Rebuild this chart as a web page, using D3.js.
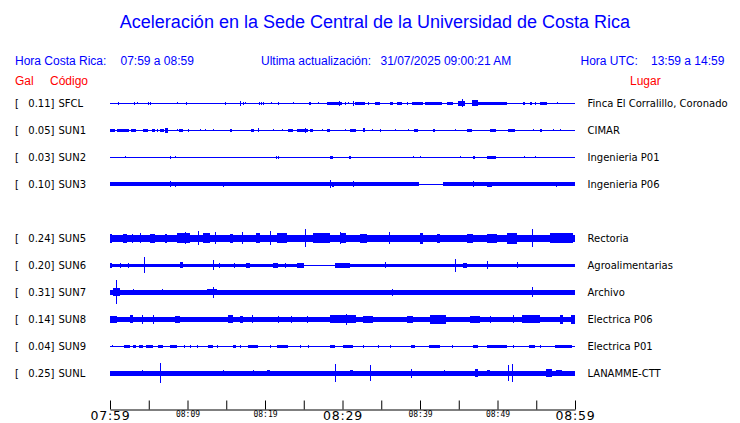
<!DOCTYPE html>
<html><head><meta charset="utf-8">
<script src="https://cdn.jsdelivr.net/npm/d3@7"></script>
<style>body{margin:0;background:#fff}svg{display:block}</style>
</head><body><svg id="c" width="740" height="423"></svg>
<script>
// ---------- data ----------
const codes  = ["SFCL","SUN1","SUN2","SUN3","SUN5","SUN6","SUN7","SUN8","SUN9","SUNL"];
const peakGal = [0.11,0.05,0.03,0.10,0.24,0.20,0.31,0.14,0.04,0.25];
const places = ["Finca El Corralillo, Coronado","CIMAR","Ingenieria P01","Ingenieria P06","Rectoria","Agroalimentarias","Archivo","Electrica P06","Electrica P01","LANAMME-CTT"];
const rowSlot = [0,1,2,3,5,6,7,8,9,10];           // slot 4 is an empty row
// background amplitude of each trace (relative units, 13.5 = half a row)
const baseAmp = [0.5,0.5,0.5,2.0,3.8,1.8,2.2,2.6,0.5,2.2];
// flat (no-signal) stretches, minutes after 07:59
const quietSpans = [[],[],[],[[39.9,43.0]],[],[[25.0,29.0]],[],[],[],[]];
// bursts: [start minute, end minute, amplitude]
const bursts = [
 [[1.0,1.2,1.5],[3.1,3.1,1.2],[3.5,3.5,1],[4.9,5.0,1.5],[5.2,5.3,1.5],[8.6,8.6,1],[9.8,9.9,1.5],[14.8,14.8,1.2],[16.8,16.9,2.2],[17.2,17.2,1.2],[17.4,17.4,1],[19.2,19.2,1.2],[19.5,19.6,1.5],[19.7,19.7,1.2],[20.8,20.8,1],[21.7,21.7,1.2],[23.6,23.6,1],[25.7,25.9,1.2],[26.8,26.8,1],[28.0,29.9,1.5],[29.6,29.7,2.5],[30.3,30.3,1.2],[30.7,30.7,1],[31.4,31.5,2.5],[31.6,32.9,1.5],[33.3,33.4,1.2],[34.2,34.8,1.5],[36.1,36.5,1.2],[37.0,37.7,1.5],[38.3,38.4,1.2],[39.0,40.4,1.5],[40.6,42.8,1.7],[43.5,44.3,1.5],[44.9,45.8,2.5],[45.4,45.6,4],[46.7,47.5,3],[47.5,51.2,1.8],[53.3,53.5,1.2],[54.2,54.4,1.2],[54.8,55.0,1.2],[55.5,56.4,1.2],[57.7,57.7,1]],
 [[0.0,0.6,1.5],[0.9,1.5,1.5],[1.6,2.4,1.5],[2.7,3.4,1.5],[4.3,4.9,1.5],[5.4,5.8,1.2],[6.1,6.1,1.2],[6.5,7.0,1.2],[7.1,7.5,2.2],[8.6,8.6,1],[8.9,9.4,1.2],[10.1,10.1,1.2],[11.6,11.6,1],[12.3,12.3,1],[13.3,13.3,1],[15.5,15.8,1.2],[18.2,18.6,1.5],[19.1,19.1,2],[21.0,21.0,1],[22.2,22.2,1],[23.0,23.6,1.5],[24.1,25.6,1.8],[25.2,25.3,2.5],[25.8,26.2,1.2],[27.4,27.4,1],[28.0,28.4,1.2],[30.3,30.3,1],[31.0,31.8,1.2],[32.7,32.9,2],[33.8,33.8,1],[34.8,34.8,1.2],[36.8,36.8,1],[38.5,38.5,1],[39.2,39.7,1.5],[41.7,41.9,1.2],[44.5,44.5,1],[46.1,46.7,1.5],[49.0,49.8,1.5],[51.4,52.3,1.2],[54.6,54.6,1],[55.5,55.7,1.5],[57.2,57.2,1],[58.1,58.1,1]],
 [[1.9,1.9,1],[7.7,7.7,1.5],[8.4,8.4,1],[21.4,21.4,1.5],[21.7,21.7,1.5],[28.4,28.8,1.5],[30.8,31.1,1.5],[39.1,39.1,1],[40.0,40.0,1],[45.2,45.2,1],[46.8,47.1,1.5],[48.6,49.8,1.5],[53.4,53.4,1],[54.8,54.8,1]],
 [[7.7,7.7,3],[8.4,8.4,2.5],[14.6,14.6,2.5],[28.4,28.4,4],[28.6,28.9,2.5],[31.3,31.4,3],[46.8,46.8,3],[48.6,49.3,2.7],[57.6,57.6,2.3]],
 [[0,0.2,4.5],[1.7,2.2,4.8],[2.8,2.8,4.5],[3.9,3.9,5],[5.2,5.8,4.5],[7.1,7.3,4.5],[8.6,10.3,5],[9.7,9.7,6],[11.3,11.3,7],[12.0,12.9,5],[13.5,13.5,6],[15.5,15.9,4.5],[17.0,17.0,6],[18.9,19.4,5],[20.6,20.6,7],[21.5,22.8,5],[25.2,25.2,9],[26.2,28.4,5],[29.7,29.7,6],[29.7,30.5,5],[32.3,33.1,4.5],[36.0,36.0,6],[40.0,40.4,5.5],[42.2,42.6,4.5],[46.0,46.9,4.5],[48.6,49.9,4.5],[51.2,52.5,5.5],[54.4,54.4,9],[56.8,59.8,5]],
 [[0,0.2,2.3],[1.3,1.3,2.2],[2.3,2.3,2.2],[4.4,4.4,8],[9.0,9.4,3],[13.3,13.3,5],[14.0,14.0,2.3],[16.0,16.0,2.3],[17.6,18.0,2.3],[21.0,21.7,2.5],[22.6,22.6,2.2],[24.1,25.0,2.2],[29.0,31.0,2.5],[35.5,35.5,3],[44.5,44.7,6.5],[45.5,46.1,2.3],[48.6,48.6,4],[52.5,52.5,3]],
 [[0.4,1.3,4],[0.8,0.8,12],[3.0,3.0,3],[6.7,6.7,3],[8.8,8.8,2.5],[10.5,10.5,2.5],[12.5,13.8,3],[13.3,13.4,5.5],[19.5,19.8,2.6],[22.5,22.5,2.5],[25.3,25.3,2.5],[27.9,27.9,2.5],[30.3,30.3,2.5],[33.3,33.3,2.5],[36.4,36.4,3.2],[37.2,38.1,2.6],[40.0,40.0,2.5],[43.9,45.2,2.7],[47.4,47.4,2.5],[49.3,49.3,2.5],[52.3,52.3,2.5],[54.4,54.4,5],[57.6,58.3,2.6]],
 [[0,0.9,3.5],[2.6,3.0,4],[4.1,4.1,4.5],[5.6,5.6,4.5],[8.4,9.0,3.5],[15.2,15.9,4],[16.8,17.2,3.5],[18.3,18.3,4],[21.7,21.7,3.5],[23.4,23.4,3.5],[25.4,25.4,3.5],[28.4,31.8,4],[30.5,30.5,5.5],[32.6,33.9,3.5],[38.3,39.1,3.5],[41.3,43.4,4.5],[46.5,47.7,3.5],[49.0,49.0,3.5],[52.0,52.0,4],[53.1,55.5,4],[58.1,58.5,4.5],[59.5,60,4.5]],
 [[0.2,0.2,1],[1.8,2.6,1.3],[3.0,3.4,1.2],[3.7,4.3,1.5],[4.7,5.6,1.5],[6.2,6.9,1.3],[7.7,8.6,1.5],[9.5,9.5,1.2],[10.3,10.3,1.2],[11.2,11.2,1.2],[12.7,13.3,1.5],[13.8,13.8,1.2],[15.9,16.3,1.2],[16.8,16.8,1.2],[17.8,19.1,1.3],[20.6,20.6,1.2],[21.5,23.0,1.5],[24.5,24.5,1.2],[25.6,25.6,1.2],[28.4,29.0,1.5],[30.1,31.4,1.5],[32.7,32.7,1.2],[34.6,34.6,1.2],[36.1,36.1,1.2],[38.9,39.4,1.3],[41.1,42.6,1.3],[44.1,44.1,1.2],[46.9,47.5,1.5],[48.6,51.2,1.3],[52.0,52.0,1.2],[54.0,54.8,1.3],[55.5,55.5,1.2],[57.4,59.6,1.2]],
 [[4.1,4.1,3],[6.4,6.4,10],[6.7,9.3,2.6],[11.8,11.8,2.6],[14.6,14.6,3],[18.5,18.5,3],[20.2,20.6,3],[21.9,21.9,2.6],[25.4,25.4,2.6],[29.0,29.0,9],[31.0,31.4,3],[33.5,33.5,8],[38.8,38.8,4.5],[43.1,43.1,3],[47.1,47.5,4],[48.6,49.0,3],[51.3,51.3,8],[51.9,51.9,9],[56.3,57.0,4],[57.6,58.3,3]]
];
const tickTimes   = ["07:59","08:04","08:09","08:14","08:19","08:24","08:29","08:34","08:39","08:44","08:49","08:54","08:59"];
const labelTimes  = ["07:59","08:09","08:19","08:29","08:39","08:49","08:59"];
const majorTimes  = ["07:59","08:29","08:59"];

// ---------- drawing ----------
const svg = d3.select("#c");
const BLUE = "#0000ff", RED = "#ff0000";
const parse = d3.timeParse("%Y-%m-%d %H:%M");
const T = s => parse("2025-07-31 " + s);
const t0 = T(tickTimes[0]), t1 = T(tickTimes[tickTimes.length-1]);
const tm = m => new Date(t0.getTime() + m*60000);
const x = d3.scaleTime().domain([t0,t1]).range([110,575]);
const y = d3.scalePoint().domain(d3.range(11)).range([103.3,373.3]);
const amp = d3.scaleLinear().domain([0,13.5]).range([0,y.step()/2]);

svg.append("text").attr("x",375).attr("y",28).attr("text-anchor","middle")
  .attr("font-family","Liberation Sans, Arial, sans-serif").attr("font-size",18)
  .attr("fill",BLUE).text("Aceleración en la Sede Central de la Universidad de Costa Rica");

const hdr = [
  ["Hora Costa Rica:",15,65,BLUE],["07:59 a 08:59",120.5,65,BLUE],
  ["Ultima actualización:",261,65,BLUE],["31/07/2025 09:00:21 AM",380.5,65,BLUE],
  ["Hora UTC:",580.5,65,BLUE],["13:59 a 14:59",651,65,BLUE],
  ["Gal",15,84.5,RED],["Código",50,84.5,RED],["Lugar",630,84.5,RED]
];
svg.append("g").selectAll("text").data(hdr).join("text")
  .attr("x",d=>d[1]).attr("y",d=>d[2]).attr("fill",d=>d[3])
  .attr("font-family","Liberation Sans, Arial, sans-serif").attr("font-size",12)
  .text(d=>d[0]);

const lab = svg.append("g").attr("font-family","DejaVu Sans, sans-serif").attr("font-size",10).attr("fill","#000");
codes.forEach((c,i)=>{
  const cy = y(rowSlot[i]) + 3.5;
  lab.append("text").attr("x",15).attr("y",cy).text("[");
  lab.append("text").attr("x",54.5).attr("y",cy).attr("text-anchor","end").text(peakGal[i].toFixed(2)+"]");
  lab.append("text").attr("x",58.5).attr("y",cy).text(c);
  lab.append("text").attr("x",587.5).attr("y",cy).text(places[i]);
});

const tr = svg.append("g").attr("fill",BLUE).attr("shape-rendering","crispEdges");
codes.forEach((c,i)=>{
  const cy = y(rowSlot[i]);
  let segs = [], s = 0;
  quietSpans[i].forEach(q=>{ segs.push([s,q[0],baseAmp[i]]); segs.push([q[0],q[1],0]); s = q[1]; });
  segs.push([s,60,baseAmp[i]]);
  const all = segs.concat(bursts[i]);
  tr.selectAll(null).data(all).join("rect")
    .attr("x",d=>x(tm(d[0])))
    .attr("width",d=>Math.max(1, x(tm(d[1]))-x(tm(d[0]))))
    .attr("y",d=>cy - Math.max(0.5, amp(d[2])))
    .attr("height",d=>2*Math.max(0.5, amp(d[2])));
});

// time axis
const ax = d3.axisBottom(x).tickValues(tickTimes.map(T)).tickSizeInner(-9).tickSizeOuter(0)
  .tickFormat(d=>{const s=d3.timeFormat("%H:%M")(d); return labelTimes.includes(s)?s:"";});
const g = svg.append("g").attr("transform","translate(0,409.5)").call(ax);
g.select(".domain").attr("stroke","#000");
g.selectAll(".tick line").attr("stroke","#000");
g.selectAll(".tick text").each(function(d){
  const s = d3.timeFormat("%H:%M")(d), big = majorTimes.includes(s);
  d3.select(this).attr("fill","#000").attr("dy",null)
    .attr("y", big ? 10.5 : 7.5)
    .attr("font-family", big ? "DejaVu Sans, sans-serif" : "DejaVu Sans Mono, monospace")
    .attr("font-size", big ? 12.5 : 8)
    .attr("letter-spacing", big ? 0.8 : 0);
});
</script></body></html>
